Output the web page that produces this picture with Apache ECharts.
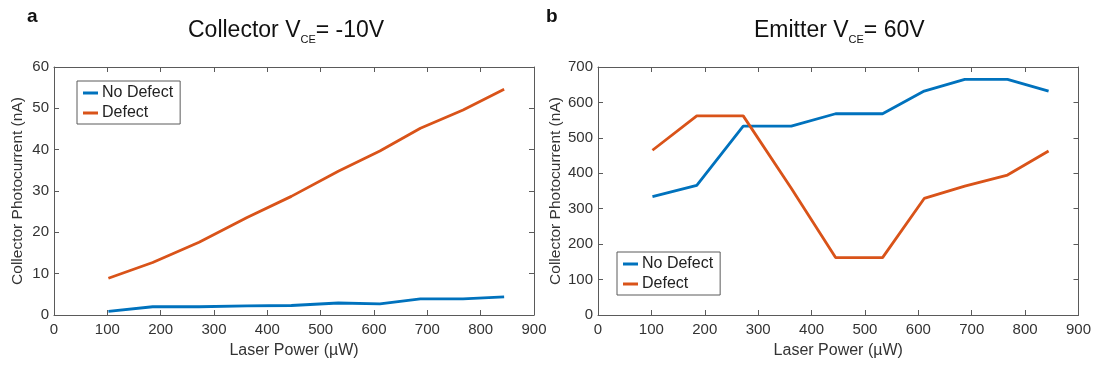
<!DOCTYPE html>
<html>
<head>
<meta charset="utf-8">
<script src="https://cdn.jsdelivr.net/npm/echarts@6/dist/echarts.min.js"></script>
<style>
  html, body { margin: 0; padding: 0; background: #fff; }
  #chart { width: 1094px; height: 368px; }
</style>
</head>
<body>
<div id="chart"></div>
<script>
// Laser power steps (µW)
const laserPower = [102, 185, 272, 362, 445, 533, 611, 687, 767, 844];

// Panel a: collector bias -10 V, collector photocurrent (nA)
const collectorNoDefect = [0.9, 2.0, 2.0, 2.2, 2.3, 2.9, 2.7, 3.9, 3.9, 4.4];
const collectorDefect   = [8.9, 12.7, 17.6, 23.6, 28.7, 34.8, 39.7, 45.2, 49.6, 54.6];

// Panel b: emitter bias 60 V, collector photocurrent (nA)
const emitterNoDefect = [334, 366, 533, 533, 568, 568, 632, 665, 665, 632];
const emitterDefect   = [465, 562, 562, 358, 162, 162, 329, 364, 395, 463];

const xTicks = { min: 0, max: 900, interval: 100 };
const yTicksA = { min: 0, max: 60, interval: 10 };
const yTicksB = { min: 0, max: 700, interval: 100 };

const BLUE = '#0072BD';
const ORANGE = '#D95319';
const AXIS = '#5a5a5a';
const TEXT = '#333333';
const FONT = 'Liberation Sans, Arial, sans-serif';

const grids = [
  { left: 54, right: 560, top: 67, bottom: 53 },
  { left: 598, right: 15, top: 67, bottom: 53 }
];

function pairs(xs, ys) { return xs.map((x, i) => [x, ys[i]]); }

const lineCommon = { show: true, onZero: false, lineStyle: { color: AXIS, width: 1 } };
const tickCommon = { show: true, inside: true, length: 5, lineStyle: { color: AXIS } };

function mainX(gi) {
  return {
    type: 'value', gridIndex: gi, min: xTicks.min, max: xTicks.max, interval: xTicks.interval,
    name: 'Laser Power (µW)', nameLocation: 'middle', nameGap: 28,
    nameTextStyle: { fontFamily: FONT, fontSize: 16, color: TEXT },
    axisLine: lineCommon, axisTick: tickCommon,
    axisLabel: { fontFamily: FONT, fontSize: 15, color: TEXT, margin: 7 },
    splitLine: { show: false }
  };
}
function topX(gi) {
  return {
    type: 'value', gridIndex: gi, position: 'top', min: xTicks.min, max: xTicks.max, interval: xTicks.interval,
    axisLine: lineCommon, axisTick: tickCommon,
    axisLabel: { show: false }, splitLine: { show: false }
  };
}
function mainY(gi, t) {
  return {
    type: 'value', gridIndex: gi, min: t.min, max: t.max, interval: t.interval,
    name: 'Collector Photocurrent (nA)', nameLocation: 'middle', nameGap: gi === 0 ? 28 : 34,
    nameTextStyle: { fontFamily: FONT, fontSize: 15.5, color: TEXT },
    axisLine: lineCommon, axisTick: tickCommon,
    axisLabel: { fontFamily: FONT, fontSize: 15, color: TEXT, margin: 5 },
    splitLine: { show: false }
  };
}
function rightY(gi, t) {
  return {
    type: 'value', gridIndex: gi, position: 'right', min: t.min, max: t.max, interval: t.interval,
    axisLine: lineCommon, axisTick: tickCommon,
    axisLabel: { show: false }, splitLine: { show: false }
  };
}
function lineSeries(name, xi, yi, data, color) {
  return {
    name, type: 'line', xAxisIndex: xi, yAxisIndex: yi, data,
    symbol: 'none', smooth: false, animation: false,
    lineStyle: { color, width: 2.8 }, itemStyle: { color }
  };
}

function titleRich(main, sub, tail) {
  return {
    padding: 0,
    text: '{m|' + main + '}{s|' + sub + '}{m|' + tail + '}',
    textStyle: {
      fontWeight: 'normal',
      rich: {
        m: { fontFamily: FONT, fontSize: 23, fontWeight: 'normal', color: '#111', verticalAlign: 'top', lineHeight: 27 },
        s: { fontFamily: FONT, fontSize: 11, fontWeight: 'normal', color: '#111', verticalAlign: 'top', padding: [15, 0, 0, 0], lineHeight: 14 }
      }
    }
  };
}

const legendCommon = {
  orient: 'vertical',
  icon: 'rect', itemWidth: 15, itemHeight: 3, itemGap: 4,
  borderColor: AXIS, borderWidth: 1, padding: [4, 7, 3, 6],
  backgroundColor: '#fff',
  textStyle: { fontFamily: FONT, fontSize: 16, color: '#222', padding: [0, 0, 0, -1] },
  data: ['No Defect', 'Defect']
};

const option = {
  animation: false,
  title: [
    { text: 'a', left: 27, top: 7, padding: 0, textStyle: { fontFamily: FONT, fontSize: 19, fontWeight: 'bold', color: '#111' } },
    { text: 'b', left: 546, top: 7, padding: 0, textStyle: { fontFamily: FONT, fontSize: 19, fontWeight: 'bold', color: '#111' } },
    Object.assign({ left: 188, top: 19 }, titleRich('Collector V', 'CE', '= -10V')),
    Object.assign({ left: 754, top: 19 }, titleRich('Emitter V', 'CE', '= 60V'))
  ],
  legend: [
    Object.assign({ left: 77, top: 81 }, legendCommon),
    Object.assign({ left: 617, top: 252 }, legendCommon)
  ],
  grid: grids,
  xAxis: [mainX(0), topX(0), mainX(1), topX(1)],
  yAxis: [mainY(0, yTicksA), rightY(0, yTicksA), mainY(1, yTicksB), rightY(1, yTicksB)],
  series: [
    lineSeries('No Defect', 0, 0, pairs(laserPower, collectorNoDefect), BLUE),
    lineSeries('Defect', 0, 0, pairs(laserPower, collectorDefect), ORANGE),
    lineSeries('No Defect', 2, 2, pairs(laserPower, emitterNoDefect), BLUE),
    lineSeries('Defect', 2, 2, pairs(laserPower, emitterDefect), ORANGE)
  ]
};

const chart = echarts.init(document.getElementById('chart'), null, { renderer: 'canvas' });
chart.setOption(option);
</script>
</body>
</html>
